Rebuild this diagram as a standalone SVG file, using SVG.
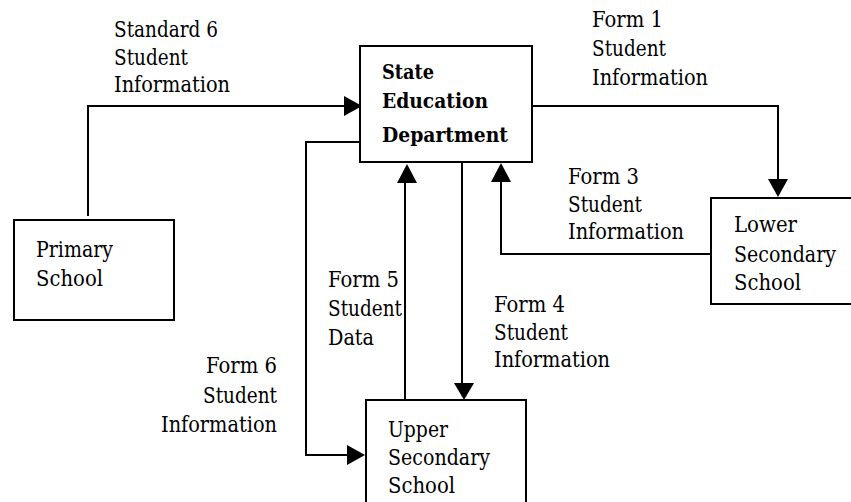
<svg xmlns="http://www.w3.org/2000/svg" width="851" height="502" viewBox="0 0 851 502">
<style>
.box{fill:#fff;stroke:#000;stroke-width:2}
.c{fill:none;stroke:#000;stroke-width:2}
.ah{fill:#000;stroke:none}
text{font-family:'DejaVu Serif','Liberation Serif',serif;font-size:22px;fill:#000}
.b{font-weight:bold;font-size:20px}
</style>
<rect width="851" height="502" fill="#fff"/>
<g id="connectors">
<path class="c" d="M88,216 V106 H346"/>
<polygon class="ah" points="344,96 362,106 344,116"/>
<path class="c" d="M532,106 H778 V181"/>
<polygon class="ah" points="768,179 788,179 778,197"/>
<path class="c" d="M711,254 H501 V180"/>
<polygon class="ah" points="491,182 511,182 501,163"/>
<path class="c" d="M405,400 V180"/>
<polygon class="ah" points="397,183 417,183 407,164"/>
<path class="c" d="M462,153 V385"/>
<polygon class="ah" points="454,383 474,383 464,400"/>
<path class="c" d="M360,142 H306 V455 H349"/>
<polygon class="ah" points="347,445 365,455 347,465"/>
</g>
<g id="state">
<rect class="box" x="360" y="46" width="172" height="116"/>
<text class="b" x="382" y="79" textLength="52" lengthAdjust="spacingAndGlyphs">State</text>
<text class="b" x="382" y="108" textLength="106" lengthAdjust="spacingAndGlyphs">Education</text>
<text class="b" x="382" y="142" textLength="126" lengthAdjust="spacingAndGlyphs">Department</text>
</g>
<g id="primary">
<rect class="box" x="14" y="220" width="160" height="100"/>
<text x="36" y="257" textLength="77" lengthAdjust="spacingAndGlyphs">Primary</text>
<text x="36" y="286" textLength="67" lengthAdjust="spacingAndGlyphs">School</text>
</g>
<g id="lower">
<rect class="box" x="711" y="198" width="150" height="106"/>
<text x="734" y="232" textLength="63" lengthAdjust="spacingAndGlyphs">Lower</text>
<text x="734" y="262" textLength="102" lengthAdjust="spacingAndGlyphs">Secondary</text>
<text x="734" y="290" textLength="67" lengthAdjust="spacingAndGlyphs">School</text>
</g>
<g id="upper">
<rect class="box" x="366" y="400" width="160" height="115"/>
<text x="388" y="437" textLength="60" lengthAdjust="spacingAndGlyphs">Upper</text>
<text x="388" y="465" textLength="102" lengthAdjust="spacingAndGlyphs">Secondary</text>
<text x="388" y="493" textLength="67" lengthAdjust="spacingAndGlyphs">School</text>
</g>
<g id="labels">
<text x="114" y="37" textLength="104" lengthAdjust="spacingAndGlyphs">Standard 6</text>
<text x="114" y="65" textLength="74" lengthAdjust="spacingAndGlyphs">Student</text>
<text x="114" y="92" textLength="116" lengthAdjust="spacingAndGlyphs">Information</text>
<text x="592" y="27" textLength="71" lengthAdjust="spacingAndGlyphs">Form 1</text>
<text x="592" y="56" textLength="74" lengthAdjust="spacingAndGlyphs">Student</text>
<text x="592" y="85" textLength="116" lengthAdjust="spacingAndGlyphs">Information</text>
<text x="568" y="184" textLength="71" lengthAdjust="spacingAndGlyphs">Form 3</text>
<text x="568" y="212" textLength="74" lengthAdjust="spacingAndGlyphs">Student</text>
<text x="568" y="239" textLength="116" lengthAdjust="spacingAndGlyphs">Information</text>
<text x="328" y="287" textLength="71" lengthAdjust="spacingAndGlyphs">Form 5</text>
<text x="328" y="316" textLength="74" lengthAdjust="spacingAndGlyphs">Student</text>
<text x="328" y="345" textLength="46" lengthAdjust="spacingAndGlyphs">Data</text>
<text x="494" y="312" textLength="71" lengthAdjust="spacingAndGlyphs">Form 4</text>
<text x="494" y="340" textLength="74" lengthAdjust="spacingAndGlyphs">Student</text>
<text x="494" y="367" textLength="116" lengthAdjust="spacingAndGlyphs">Information</text>
<text x="277" y="373" text-anchor="end" textLength="71" lengthAdjust="spacingAndGlyphs">Form 6</text>
<text x="277" y="403" text-anchor="end" textLength="74" lengthAdjust="spacingAndGlyphs">Student</text>
<text x="277" y="432" text-anchor="end" textLength="116" lengthAdjust="spacingAndGlyphs">Information</text>
</g>
</svg>
